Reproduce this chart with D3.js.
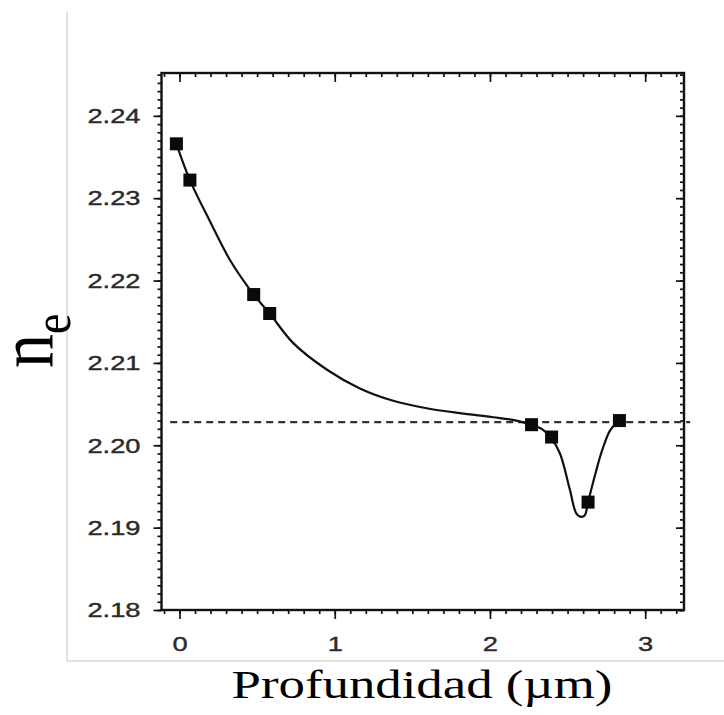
<!DOCTYPE html>
<html>
<head>
<meta charset="utf-8">
<script src="https://cdn.jsdelivr.net/npm/d3@7"></script>
<style>
  html, body { margin: 0; padding: 0; background: #fff; }
  svg { display: block; }
</style>
</head>
<body>
<div id="chart"></div>
<script>
// measured points (depth in um, n_e)
const depth = [-0.02, 0.067, 0.478, 0.581, 2.268, 2.397, 2.632, 2.834];
const ne = [2.2366, 2.2322, 2.2183, 2.2160, 2.2025, 2.2010, 2.1931, 2.2030];

// guide curve
const curveX = [-0.02, 0.067, 0.196, 0.325, 0.478, 0.581, 0.733, 0.948, 1.162, 1.377, 1.592, 1.806, 2.021, 2.17, 2.268, 2.34, 2.397, 2.451, 2.515, 2.557, 2.59, 2.611, 2.632, 2.68, 2.723, 2.777, 2.834];
const curveY = [2.2366, 2.2322, 2.2272, 2.2225, 2.2183, 2.2160, 2.2124, 2.2092, 2.2069, 2.2054, 2.2045, 2.2039, 2.2034, 2.2030, 2.2025, 2.2019, 2.2008, 2.1990, 2.1946, 2.1917, 2.1913, 2.1915, 2.1931, 2.1966, 2.1994, 2.2019, 2.2030];

// bulk index (dashed reference)
const bulkNe = 2.2028;
const bulkRange = [-0.06, 3.29];

const xMajor = [0, 1, 2, 3];
const yMajor = [2.18, 2.19, 2.20, 2.21, 2.22, 2.23, 2.24];

const width = 724, height = 715;
const stretch = 1.3; // the scan is wider than tall

const svg = d3.select("#chart").append("svg")
  .attr("width", width)
  .attr("height", height);

// scan border of the figure
svg.append("path")
  .attr("d", "M67,12 V661 H724")
  .attr("fill", "none")
  .attr("stroke", "#c4c4c4")
  .attr("stroke-width", 1);

const x = d3.scaleLinear().domain([-0.116, 3.25]).range([161.5, 684]);
const y = d3.scaleLinear().domain([2.18, 2.2452]).range([610, 73]);

const xMinor = d3.range(-1, 33).map(i => i / 10);
const yMinor = d3.range(0, 66).map(i => 2.18 + i / 1000);

const fmt = d3.format(".2f");

function widen(sel, k) {
  sel.each(function () {
    const w = this.getComputedTextLength();
    if (w > 0) d3.select(this).attr("textLength", w * k).attr("lengthAdjust", "spacingAndGlyphs");
  });
}

function axisG(axis, tx, ty) {
  const g = svg.append("g")
    .attr("transform", `translate(${tx},${ty})`)
    .call(axis);
  g.select(".domain").remove();
  g.selectAll("line").attr("stroke", "#111").attr("stroke-width", 1.7);
  g.selectAll("text")
    .attr("font-family", "'Liberation Sans', Arial, sans-serif")
    .attr("font-size", 21)
    .attr("fill", "#2a2a2a")
    .attr("stroke", "#2a2a2a")
    .attr("stroke-width", 0.4)
    .call(widen, stretch);
  return g;
}

// left: outward ticks
axisG(d3.axisLeft(y).tickValues(yMinor).tickSize(4).tickFormat(""), x.range()[0], 0);
axisG(d3.axisLeft(y).tickValues(yMajor).tickSize(8).tickPadding(13).tickFormat(fmt), x.range()[0], 0);
// right: inward ticks
axisG(d3.axisRight(y).tickValues(yMinor).tickSize(-4).tickFormat(""), x.range()[1], 0);
axisG(d3.axisRight(y).tickValues(yMajor).tickSize(-8).tickFormat(""), x.range()[1], 0);
// bottom: outward ticks
axisG(d3.axisBottom(x).tickValues(xMinor).tickSize(4).tickFormat(""), 0, y.range()[0]);
axisG(d3.axisBottom(x).tickValues(xMajor).tickSize(9).tickPadding(17).tickFormat(d3.format("d")), 0, y.range()[0]);
// top: inward ticks
axisG(d3.axisTop(x).tickValues(xMinor).tickSize(-4).tickFormat(""), 0, y.range()[1]);
axisG(d3.axisTop(x).tickValues(xMajor).tickSize(-9).tickFormat(""), 0, y.range()[1]);

// frame
svg.append("rect")
  .attr("x", x.range()[0])
  .attr("y", y.range()[1])
  .attr("width", x.range()[1] - x.range()[0])
  .attr("height", y.range()[0] - y.range()[1])
  .attr("fill", "none")
  .attr("stroke", "#111")
  .attr("stroke-width", 2.4);

// dashed bulk line
svg.append("line")
  .attr("x1", x(bulkRange[0]))
  .attr("x2", x(bulkRange[1]))
  .attr("y1", y(bulkNe))
  .attr("y2", y(bulkNe))
  .attr("stroke", "#333")
  .attr("stroke-width", 2.2)
  .attr("stroke-dasharray", "7,5");

// guide curve
const line = d3.line()
  .x(d => x(d))
  .y((d, i) => y(curveY[i]))
  .curve(d3.curveCatmullRom.alpha(0.5));

svg.append("path")
  .datum(curveX)
  .attr("d", line)
  .attr("fill", "none")
  .attr("stroke", "#111")
  .attr("stroke-width", 2.2);

// square markers
const sq = 13;
svg.selectAll("rect.pt")
  .data(depth)
  .enter()
  .append("rect")
  .attr("class", "pt")
  .attr("x", d => x(d) - sq / 2)
  .attr("y", (d, i) => y(ne[i]) - sq / 2)
  .attr("width", sq)
  .attr("height", sq)
  .attr("fill", "#0a0a0a");

// axis titles
svg.append("text")
  .attr("x", 422)
  .attr("y", 698)
  .attr("text-anchor", "middle")
  .attr("font-family", "'Liberation Serif', 'Times New Roman', serif")
  .attr("font-size", 40)
  .attr("fill", "#000")
  .text("Profundidad (µm)")
  .call(widen, 1.32);

const yt = svg.append("text")
  .attr("transform", "translate(53,368) scale(1.15,1) rotate(-90)")
  .attr("font-family", "'Liberation Serif', 'Times New Roman', serif")
  .attr("font-size", 68)
  .attr("fill", "#000");
yt.append("tspan").text("n");
yt.append("tspan")
  .attr("font-size", 46)
  .attr("dy", 15)
  .text("e");
</script>
</body>
</html>
